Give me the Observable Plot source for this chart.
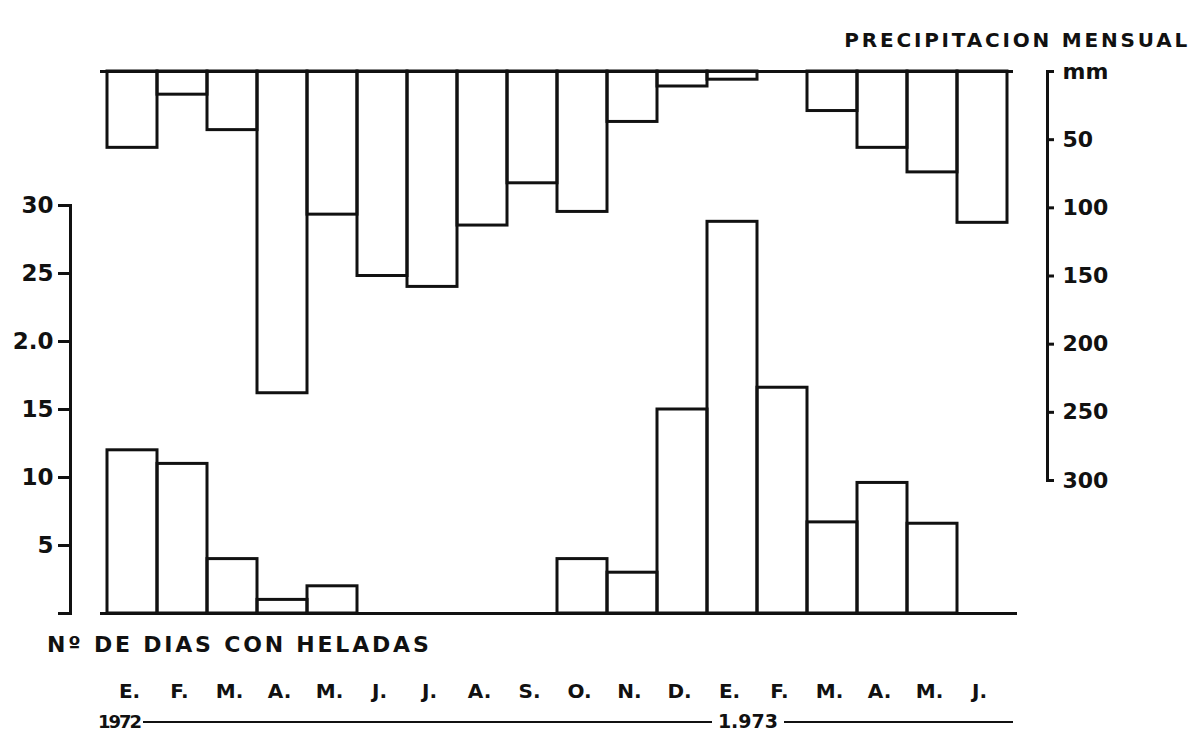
<!DOCTYPE html>
<html>
<head>
<meta charset="utf-8">
<script src="https://cdn.jsdelivr.net/npm/d3@7"></script>
<script src="https://cdn.jsdelivr.net/npm/@observablehq/plot@0.6"></script>
<style>
  html, body { margin: 0; padding: 0; background: #fff; }
  #wrap { position: relative; width: 1194px; height: 734px; overflow: hidden;
          font-family: "DejaVu Sans", sans-serif; font-weight: bold; color: #111; }
  #wrap svg { position: absolute; left: 0; top: 0; background: transparent; }
  .lbl { position: absolute; white-space: nowrap; line-height: 1; }
  #years { position: absolute; display: flex; align-items: center; line-height: 1; }
  #years .ln { height: 0; border-top: 2.5px solid #111; }
</style>
</head>
<body>
<div id="wrap"></div>
<script>
// ---- data ----
const monthKeys = ["1972-01","1972-02","1972-03","1972-04","1972-05","1972-06","1972-07","1972-08","1972-09","1972-10","1972-11","1972-12",
                   "1973-01","1973-02","1973-03","1973-04","1973-05","1973-06"];
const monthLabels = ["E.","F.","M.","A.","M.","J.","J.","A.","S.","O.","N.","D.","E.","F.","M.","A.","M.","J."];
const frostDays = [12, 11, 4, 1, 2, 0, 0, 0, 0, 4, 3, 15, 28.8, 16.6, 6.7, 9.6, 6.6, 0];
const precipMm  = [56, 17, 43, 236, 105, 150, 158, 113, 82, 103, 37, 11, 6, 0, 29, 56, 74, 111];
const frostTicks = [0, 5, 10, 15, 20, 25, 30];
const frostTickLabels = ["", "5", "10", "15", "2.0", "25", "30"];
const precipTicks = [0, 50, 100, 150, 200, 250, 300];
const precipTickLabels = ["mm", "50", "100", "150", "200", "250", "300"];
const yearLabels = ["1972", "1.973"];
const titleText = "PRECIPITACION MENSUAL";
const frostTitle = "Nº DE DIAS CON HELADAS";

const frostData = monthKeys.map((k, i) => ({key: k, days: frostDays[i]}));
const precipData = monthKeys.map((k, i) => ({key: k, mm: precipMm[i]}));
const labelOf = new Map(monthKeys.map((k, i) => [k, monthLabels[i]]));
const frostLab = new Map(frostTicks.map((t, i) => [t, frostTickLabels[i]]));
const precipLab = new Map(precipTicks.map((t, i) => [t, precipTickLabels[i]]));

const W = 1194, H = 734, INK = "#111";
const wrap = document.getElementById("wrap");
const baseStyle = {fontFamily: "DejaVu Sans, sans-serif", background: "transparent", color: INK, overflow: "visible"};

// ---- frost days (bottom, left axis) ----
const frost = Plot.plot({
  width: W, height: H,
  marginTop: 205, marginBottom: 121, marginLeft: 70, marginRight: 177,
  style: baseStyle,
  x: {type: "band", domain: monthKeys, range: [100, 1013], padding: 0},
  y: {domain: [0, 30]},
  marks: [
    Plot.frame({anchor: "left", stroke: INK, strokeWidth: 3}),
    Plot.ruleY([0], {insetLeft: 30, stroke: INK, strokeWidth: 3}),
    Plot.barY(frostData, {x: "key", y: "days", fill: "none", stroke: INK, strokeWidth: 3}),
    Plot.axisY({ticks: frostTicks, tickFormat: d => frostLab.get(d), tickSize: 12, tickPadding: 5,
                stroke: INK, strokeWidth: 3, fill: INK, fontSize: 23, fontWeight: "bold", label: null}),
    Plot.axisX({tickSize: 0, tickPadding: 70, tickFormat: d => labelOf.get(d), dx: -3,
                fill: INK, fontSize: 20, fontWeight: "bold", label: null})
  ]
});
wrap.appendChild(frost);

// ---- monthly precipitation (top, hanging, right axis) ----
const precip = Plot.plot({
  width: W, height: H,
  marginTop: 71, marginBottom: 254, marginLeft: 100, marginRight: 147,
  style: baseStyle,
  x: {type: "band", domain: monthKeys, range: [100, 1013], padding: 0, axis: null},
  y: {domain: [0, 300], reverse: true},
  marks: [
    Plot.frame({anchor: "right", stroke: INK, strokeWidth: 3}),
    Plot.ruleY([0], {insetRight: 34, stroke: INK, strokeWidth: 3}),
    Plot.barY(precipData, {x: "key", y: "mm", fill: "none", stroke: INK, strokeWidth: 3}),
    Plot.axisY({anchor: "right", ticks: precipTicks, tickFormat: d => precipLab.get(d), tickSize: 6, tickPadding: 9,
                stroke: INK, strokeWidth: 3, fill: INK, fontSize: 22, fontWeight: "bold", label: null})
  ]
});
wrap.appendChild(precip);

// ---- text annotations ----
function label(text, size, baseline, opts) {
  const d = document.createElement("div");
  d.className = "lbl";
  d.textContent = text;
  d.style.fontSize = size + "px";
  d.style.top = (baseline - 0.846 * size) + "px";
  Object.assign(d.style, opts);
  wrap.appendChild(d);
  return d;
}
label(titleText, 20, 47, {right: "4px", letterSpacing: "2.8px"});
label(frostTitle, 22, 653, {left: "47px", letterSpacing: "2.8px"});

const yr = document.createElement("div");
yr.id = "years";
yr.style.left = "98px"; yr.style.width = "915px"; yr.style.top = "712px"; yr.style.fontSize = "18px";
const y1 = document.createElement("span"); y1.textContent = yearLabels[0]; y1.style.letterSpacing = "-2px";
const l1 = document.createElement("div"); l1.className = "ln"; l1.style.flex = "1"; l1.style.marginLeft = "3px";
const y2 = document.createElement("span"); y2.textContent = yearLabels[1]; y2.style.margin = "0 6px"; y2.style.fontSize = "19px";
const l2 = document.createElement("div"); l2.className = "ln"; l2.style.width = "229px";
yr.append(y1, l1, y2, l2);
wrap.appendChild(yr);
</script>
</body>
</html>
